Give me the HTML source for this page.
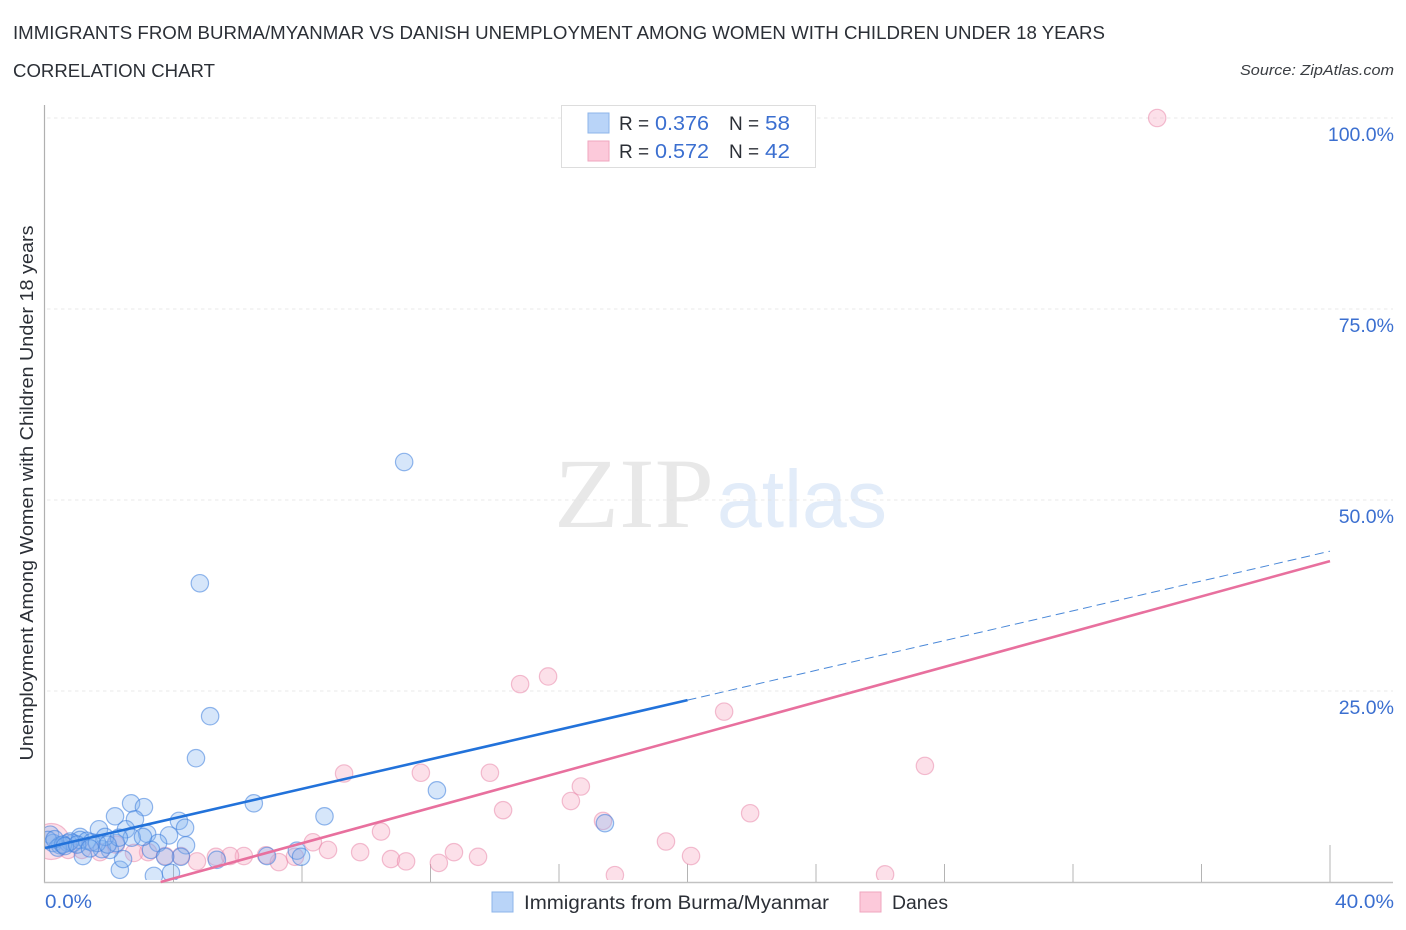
<!DOCTYPE html>
<html lang="en">
<head>
<meta charset="utf-8">
<title>Correlation Chart</title>
<style>
html,body{margin:0;padding:0;background:#fff;width:1406px;height:930px;overflow:hidden}
svg{display:block;font-family:"Liberation Sans",sans-serif}
</style>
</head>
<body>
<svg id="chart" width="1406" height="930" viewBox="0 0 1406 930">
  <defs>
    <clipPath id="plot-clip"><rect x="45" y="100" width="1350" height="780"/></clipPath>
  </defs>
  <text x="13" y="39" font-size="18.5" fill="#2b2f36" textLength="1092" lengthAdjust="spacingAndGlyphs">IMMIGRANTS FROM BURMA/MYANMAR VS DANISH UNEMPLOYMENT AMONG WOMEN WITH CHILDREN UNDER 18 YEARS</text>
  <text x="13" y="77" font-size="18.5" fill="#2b2f36" textLength="202" lengthAdjust="spacingAndGlyphs">CORRELATION CHART</text>
  <text x="1394" y="75" font-size="15" font-style="italic" fill="#3a3d42" text-anchor="end" textLength="154" lengthAdjust="spacingAndGlyphs">Source: ZipAtlas.com</text>

  <g>
    <text x="554" y="527" font-family="'Liberation Serif',serif" font-size="100" fill="#e8e8e8" textLength="160" lengthAdjust="spacingAndGlyphs">ZIP</text>
    <text x="717" y="527" font-size="82" fill="#e2ecf9" textLength="170" lengthAdjust="spacingAndGlyphs">atlas</text>
  </g>

  <g id="grid"></g>
  <g id="axes"></g>
  <g id="y-labels"></g>
  <g clip-path="url(#plot-clip)">
    <g id="pink-points"></g>
    <g id="blue-points"></g>
  </g>
  <g id="trends"></g>

  <text transform="translate(33,493) rotate(-90)" font-size="18" fill="#2b2f36" text-anchor="middle" textLength="535" lengthAdjust="spacingAndGlyphs">Unemployment Among Women with Children Under 18 years</text>
  <text x="45" y="908" font-size="19" fill="#3b6fd0" textLength="47" lengthAdjust="spacingAndGlyphs">0.0%</text>
  <text x="1394" y="908" font-size="19" fill="#3b6fd0" text-anchor="end" textLength="59" lengthAdjust="spacingAndGlyphs">40.0%</text>

  <g>
    <rect x="561.5" y="105.5" width="254" height="62" fill="#fff" stroke="#dddddd" stroke-width="1"/>
    <rect x="588" y="113" width="21" height="20" fill="#b9d4f8" stroke="#8db5ea" stroke-width="1"/>
    <rect x="588" y="141" width="21" height="20" fill="#fcc9da" stroke="#efa6bf" stroke-width="1"/>
    <text x="619" y="130" font-size="19" fill="#2b2f36">R =</text>
    <text x="655" y="130" font-size="20" fill="#3b6fd0" textLength="54" lengthAdjust="spacingAndGlyphs">0.376</text>
    <text x="729" y="130" font-size="19" fill="#2b2f36">N =</text>
    <text x="765" y="130" font-size="20" fill="#3b6fd0" textLength="25" lengthAdjust="spacingAndGlyphs">58</text>
    <text x="619" y="158" font-size="19" fill="#2b2f36">R =</text>
    <text x="655" y="158" font-size="20" fill="#3b6fd0" textLength="54" lengthAdjust="spacingAndGlyphs">0.572</text>
    <text x="729" y="158" font-size="19" fill="#2b2f36">N =</text>
    <text x="765" y="158" font-size="20" fill="#3b6fd0" textLength="25" lengthAdjust="spacingAndGlyphs">42</text>
  </g>

  <g>
    <rect x="492" y="892" width="21" height="20" fill="#b9d4f8" stroke="#8db5ea" stroke-width="1"/>
    <text x="524" y="909" font-size="19" fill="#2b2f36" textLength="305" lengthAdjust="spacingAndGlyphs">Immigrants from Burma/Myanmar</text>
    <rect x="860" y="892" width="21" height="20" fill="#fcc9da" stroke="#efa6bf" stroke-width="1"/>
    <text x="892" y="909" font-size="19" fill="#2b2f36" textLength="56" lengthAdjust="spacingAndGlyphs">Danes</text>
  </g>
</svg>
<script>
var yTickValues = [100, 75, 50, 25];
var yTickLabels = ["100.0%", "75.0%", "50.0%", "25.0%"];
var xTickValues = [4, 8, 12, 16, 20, 24, 28, 32, 36, 40];

var blueX = [11.18, 4.82, 5.14, 4.70, 12.2, 8.70, 6.50, 17.43, 2.68, 3.08, 2.18, 2.80, 4.17, 4.36, 1.68, 2.52, 3.18, 3.86, 4.39, 3.52, 3.30, 2.33, 3.39, 3.92, 6.91, 7.84, 7.97, 5.35, 4.23, 3.74, 1.18, 2.43, 2.02, 1.77, 2.70, 3.05, 2.21, 1.09, 1.87, 0.87, 0.16, 0.25, 0.47, 0.72, 0.09, 1.09, 1.31, 0.78, 0.40, 0.56, 1.45, 1.62, 2.30, 0.30, 0.62, 1.00, 1.40, 1.95];
var blueY = [54.97, 39.1, 21.7, 16.2, 12.0, 8.6, 10.3, 7.7, 10.3, 9.8, 8.6, 8.2, 8.0, 7.1, 6.9, 6.9, 6.3, 6.1, 4.8, 5.1, 4.2, 1.6, 0.8, 1.2, 3.4, 4.1, 3.3, 2.9, 3.3, 3.3, 3.4, 3.0, 4.2, 4.3, 5.8, 5.9, 5.1, 5.9, 5.9, 5.1, 6.2, 5.1, 4.8, 5.1, 5.5, 5.5, 5.4, 5.3, 4.5, 4.9, 5.2, 5.1, 5.8, 5.6, 4.7, 4.9, 4.4, 4.9];

var pinkX = [34.62, 15.66, 14.79, 21.14, 27.39, 9.31, 11.70, 13.85, 16.68, 16.37, 14.26, 21.95, 17.37, 10.46, 19.33, 20.11, 8.34, 8.81, 9.81, 12.73, 13.48, 10.77, 11.24, 12.26, 17.74, 26.15, 7.28, 7.78, 6.88, 6.19, 5.76, 5.32, 4.73, 4.23, 3.74, 3.21, 2.77, 2.21, 1.71, 1.15, 0.72, 0.20];
var pinkY = [100, 26.9, 25.9, 22.3, 15.2, 14.2, 14.3, 14.3, 12.5, 10.6, 9.4, 9.0, 8.0, 6.6, 5.3, 3.4, 5.2, 4.2, 3.9, 3.9, 3.3, 3.0, 2.7, 2.5, 0.9, 1.0, 2.6, 3.3, 3.5, 3.4, 3.4, 3.3, 2.7, 3.4, 3.4, 3.9, 3.8, 4.9, 3.9, 4.2, 4.2, 5.3];
var pinkSizes = [8.7, 8.7, 8.7, 8.7, 8.7, 8.7, 8.7, 8.7, 8.7, 8.7, 8.7, 8.7, 8.7, 8.7, 8.7, 8.7, 8.7, 8.7, 8.7, 8.7, 8.7, 8.7, 8.7, 8.7, 8.7, 8.7, 8.7, 8.7, 8.7, 8.7, 8.7, 8.7, 8.7, 8.7, 8.7, 8.7, 8.7, 8.7, 8.7, 8.7, 8.7, 18];

var blueTrendX = [0, 20];
var blueTrendY = [4.45, 23.8];
var blueTrendDashX = [20, 40];
var blueTrendDashY = [23.8, 43.3];
var pinkTrendX = [3.6, 40];
var pinkTrendY = [0, 42.0];

var NS = "http://www.w3.org/2000/svg";
function xScale(v) { return 45 + v * 32.125; }
function yScale(v) { return 882 - v * 7.64; }
function make(tag, attrs, parent) {
  var el = document.createElementNS(NS, tag);
  for (var k in attrs) el.setAttribute(k, attrs[k]);
  parent.appendChild(el);
  return el;
}

var gridG = document.getElementById("grid");
var axesG = document.getElementById("axes");
var yLabelG = document.getElementById("y-labels");

yTickValues.forEach(function (v, i) {
  var line = make("line", {x1: 47, x2: 1393, y1: yScale(v), y2: yScale(v), stroke: "#e2e2e2", "stroke-width": 0.8, "stroke-dasharray": "3.5 3.5"}, gridG);
  
  
  var label = make("text", {x: 1394, y: yScale(v) + 23, "font-size": 19.5, fill: "#3b6fd0", "text-anchor": "end"}, yLabelG);
  label.textContent = yTickLabels[i];
  
  
});

var yAxis = make("line", {x1: 44.5, x2: 44.5, y1: 105, y2: 883, stroke: "#b0b0b0", "stroke-width": 1.2}, axesG);


var xAxis = make("line", {x1: 44, x2: 1393, y1: 882.5, y2: 882.5, stroke: "#c2c2c2", "stroke-width": 1.4}, axesG);


xTickValues.forEach(function (v, i) {
  var top = i === xTickValues.length - 1 ? 845 : 864;
  var tick = make("line", {x1: xScale(v), x2: xScale(v), y1: top, y2: 882, stroke: "#b4b4b4", "stroke-width": 1}, axesG);
  
  
});

var pinkG = document.getElementById("pink-points");
pinkX.forEach(function (v, i) {
  var c = make("circle", {cx: xScale(v), cy: yScale(pinkY[i]), r: pinkSizes[i], fill: "rgba(248,170,195,0.36)", stroke: "rgba(232,130,165,0.5)", "stroke-width": 1.2}, pinkG);
  
  
});
var blueG = document.getElementById("blue-points");
blueX.forEach(function (v, i) {
  var c = make("circle", {cx: xScale(v), cy: yScale(blueY[i]), r: 8.7, fill: "rgba(130,180,240,0.33)", stroke: "rgba(60,125,220,0.55)", "stroke-width": 1.2}, blueG);
  
  
});

var trendG = document.getElementById("trends");
var pinkTrend = make("line", {x1: xScale(pinkTrendX[0]), y1: yScale(pinkTrendY[0]), x2: xScale(pinkTrendX[1]), y2: yScale(pinkTrendY[1]), stroke: "#e8709e", "stroke-width": 2.6}, trendG);


var blueTrend = make("line", {x1: xScale(blueTrendX[0]), y1: yScale(blueTrendY[0]), x2: xScale(blueTrendX[1]), y2: yScale(blueTrendY[1]), stroke: "#2272da", "stroke-width": 2.6}, trendG);


var blueDash = make("line", {x1: xScale(blueTrendDashX[0]), y1: yScale(blueTrendDashY[0]), x2: xScale(blueTrendDashX[1]), y2: yScale(blueTrendDashY[1]), stroke: "#4a88d8", "stroke-width": 1, "stroke-dasharray": "9 5"}, trendG);


</script>
</body>
</html>
